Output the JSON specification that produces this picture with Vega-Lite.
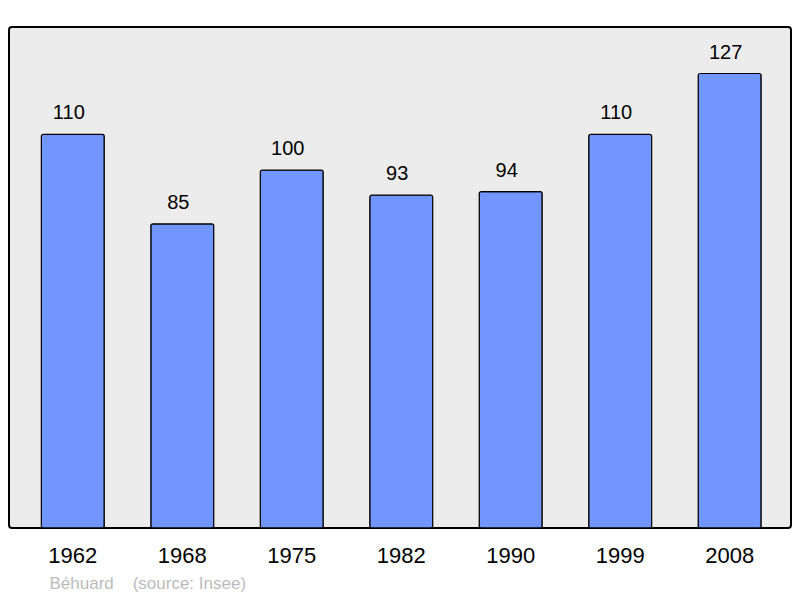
{
  "$schema": "https://vega.github.io/schema/vega-lite/v6.json",
  "width": 782,
  "height": 501,
  "autosize": "none",
  "padding": {"left": 9, "top": 27, "right": 9, "bottom": 70},
  "background": "white",
  "config": {
    "font": "Liberation Sans",
    "view": {"fill": "#ececec", "stroke": "black", "strokeWidth": 2, "cornerRadius": 3}
  },
  "data": {
    "values": [
      {"year": "1962", "pop": 110},
      {"year": "1968", "pop": 85},
      {"year": "1975", "pop": 100},
      {"year": "1982", "pop": 93},
      {"year": "1990", "pop": 94},
      {"year": "1999", "pop": 110},
      {"year": "2008", "pop": 127}
    ]
  },
  "encoding": {
    "x": {
      "field": "year",
      "type": "ordinal",
      "scale": {"paddingInner": 0.425, "paddingOuter": 0.284, "align": 0.52},
      "axis": {
        "domain": false,
        "ticks": false,
        "labelAngle": 0,
        "labelFontSize": 22,
        "labelColor": "black",
        "labelPadding": 17,
        "title": "Béhuard\u00a0\u00a0\u00a0\u00a0(source: Insee)",
        "titleFontSize": 17,
        "titleFontWeight": "normal",
        "titleColor": "#bbbbbb",
        "titleAnchor": "start",
        "titleAlign": "left",
        "titleX": 40,
        "titleY": 55,
        "titleBaseline": "middle"
      }
    },
    "y": {
      "field": "pop",
      "type": "quantitative",
      "scale": {"domain": [0, 140], "nice": false},
      "axis": null
    }
  },
  "layer": [
    {
      "mark": {"type": "bar", "color": "#7196ff", "stroke": "black", "strokeWidth": 1.2, "cornerRadius": 2}
    },
    {
      "mark": {"type": "text", "fontSize": 20, "color": "black", "baseline": "middle", "dy": -21, "dx": -4},
      "encoding": {"text": {"field": "pop", "type": "quantitative"}}
    }
  ]
}
